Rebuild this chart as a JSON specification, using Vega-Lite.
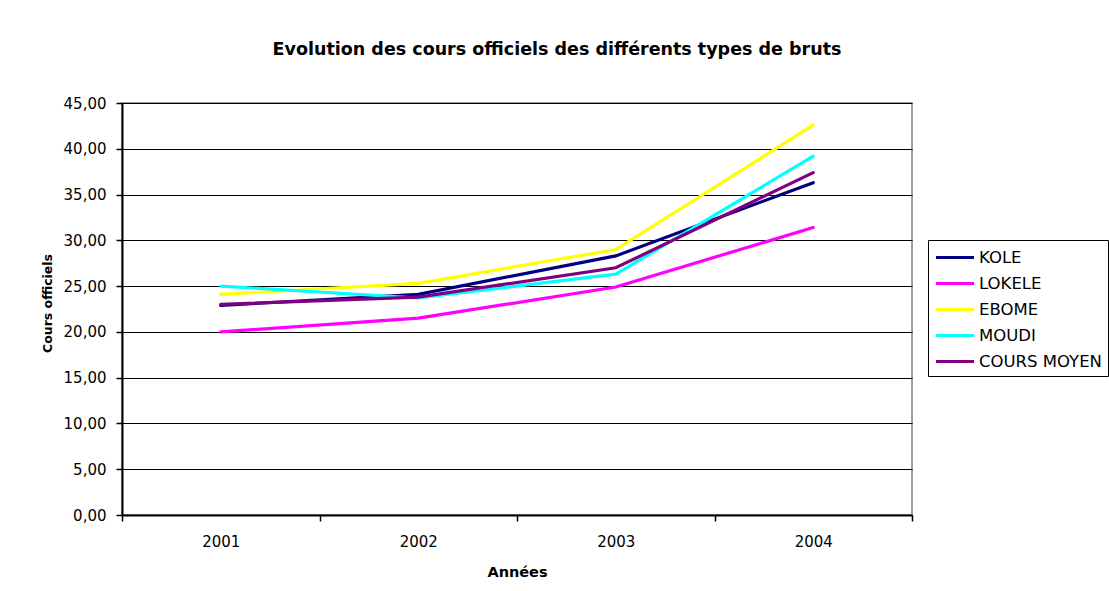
{
  "$schema": "https://vega.github.io/schema/vega-lite/v6.json",
  "width": 790,
  "height": 412,
  "autosize": {"type": "none"},
  "padding": {"left": 122, "top": 103, "right": 197, "bottom": 76},
  "background": "white",
  "title": {
    "text": "Evolution des cours officiels des différents types de bruts",
    "font": "DejaVu Sans",
    "fontSize": 17.5,
    "fontWeight": "bold",
    "color": "black",
    "anchor": "middle",
    "frame": "group",
    "dx": 40,
    "offset": 38
  },
  "data": {
    "values": [
      {"annee": "2001", "serie": "KOLE", "cours": 22.9},
      {"annee": "2002", "serie": "KOLE", "cours": 24.1},
      {"annee": "2003", "serie": "KOLE", "cours": 28.3},
      {"annee": "2004", "serie": "KOLE", "cours": 36.3},
      {"annee": "2001", "serie": "LOKELE", "cours": 20.0},
      {"annee": "2002", "serie": "LOKELE", "cours": 21.5},
      {"annee": "2003", "serie": "LOKELE", "cours": 24.9},
      {"annee": "2004", "serie": "LOKELE", "cours": 31.4},
      {"annee": "2001", "serie": "EBOME", "cours": 24.1},
      {"annee": "2002", "serie": "EBOME", "cours": 25.3},
      {"annee": "2003", "serie": "EBOME", "cours": 29.0},
      {"annee": "2004", "serie": "EBOME", "cours": 42.6},
      {"annee": "2001", "serie": "MOUDI", "cours": 25.0},
      {"annee": "2002", "serie": "MOUDI", "cours": 23.7},
      {"annee": "2003", "serie": "MOUDI", "cours": 26.3},
      {"annee": "2004", "serie": "MOUDI", "cours": 39.2},
      {"annee": "2001", "serie": "COURS MOYEN", "cours": 23.0},
      {"annee": "2002", "serie": "COURS MOYEN", "cours": 23.8},
      {"annee": "2003", "serie": "COURS MOYEN", "cours": 27.0},
      {"annee": "2004", "serie": "COURS MOYEN", "cours": 37.4}
    ]
  },
  "mark": {"type": "line", "strokeWidth": 3.2, "strokeCap": "round"},
  "encoding": {
    "x": {
      "field": "annee",
      "type": "ordinal",
      "scale": {"type": "band", "paddingInner": 0, "paddingOuter": 0},
      "axis": {
        "title": "Années",
        "labelAngle": 0,
        "tickBand": "extent",
        "domainColor": "black",
        "domainWidth": 2,
        "tickColor": "black",
        "tickWidth": 1.5,
        "tickSize": 6,
        "labelFont": "DejaVu Sans",
        "labelFontSize": 15,
        "labelColor": "black",
        "labelPadding": 13,
        "titleFont": "DejaVu Sans",
        "titleFontSize": 14.5,
        "titleFontWeight": "bold",
        "titleColor": "black",
        "titleY": 61,
        "titleBaseline": "alphabetic"
      }
    },
    "y": {
      "field": "cours",
      "type": "quantitative",
      "scale": {"domain": [0, 45], "nice": false, "zero": true},
      "axis": {
        "title": "Cours officiels",
        "values": [0, 5, 10, 15, 20, 25, 30, 35, 40, 45],
        "labelExpr": "replace(format(datum.value, '.2f'), '.', ',')",
        "grid": true,
        "gridColor": "black",
        "gridWidth": 1.2,
        "gridOpacity": 1,
        "domainColor": "black",
        "domainWidth": 2,
        "tickColor": "black",
        "tickWidth": 1.5,
        "tickSize": 6,
        "labelFont": "DejaVu Sans",
        "labelFontSize": 15,
        "labelColor": "black",
        "labelPadding": 10,
        "titleFont": "DejaVu Sans",
        "titleFontSize": 12.5,
        "titleFontWeight": "bold",
        "titleColor": "black",
        "titleAngle": -90,
        "titleX": -75,
        "titleY": 200,
        "titleAlign": "center",
        "titleBaseline": "middle"
      }
    },
    "color": {
      "field": "serie",
      "type": "nominal",
      "sort": ["KOLE", "LOKELE", "EBOME", "MOUDI", "COURS MOYEN"],
      "scale": {
        "domain": ["KOLE", "LOKELE", "EBOME", "MOUDI", "COURS MOYEN"],
        "range": ["#000080", "#FF00FF", "#FFFF00", "#00FFFF", "#800080"]
      },
      "legend": {
        "title": null,
        "orient": "none",
        "legendX": 806,
        "legendY": 137,
        "strokeColor": "black",
        "padding": 6,
        "symbolType": "M-1,0H3",
        "symbolSize": 361,
        "symbolStrokeWidth": 3.2,
        "labelFont": "DejaVu Sans",
        "labelFontSize": 16.5,
        "labelColor": "black",
        "labelOffset": 22,
        "rowPadding": 6
      }
    }
  },
  "config": {
    "view": {"stroke": "#808080", "strokeWidth": 1.5}
  }
}
